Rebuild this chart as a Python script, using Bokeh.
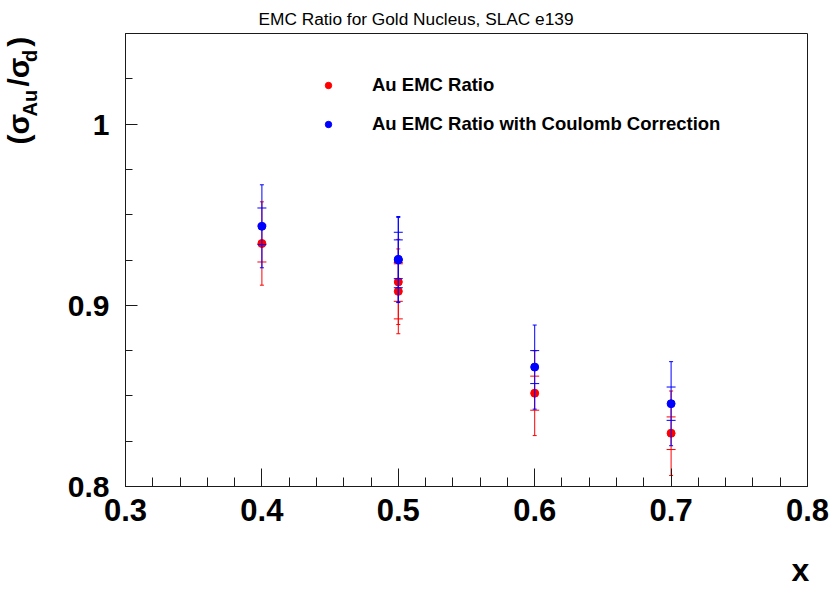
import numpy as np
import pandas as pd
from bokeh.plotting import figure
from bokeh.models import ColumnDataSource, FixedTicker, Legend, Title
from bokeh.embed import file_html
from bokeh.resources import INLINE

# SLAC E139 gold / deuterium cross-section ratio
x_au = [0.4, 0.5, 0.5, 0.6, 0.7]
ratio_au = [0.9341, 0.9129, 0.9077, 0.8515, 0.8294]
stat_au = [0.0102, 0.0107, 0.0152, 0.0094, 0.0090]
total_au = [0.0230, 0.0235, 0.0234, 0.0234, 0.0233]

# Same ratio after the Coulomb correction
x_cc = [0.4, 0.5, 0.5, 0.6, 0.7]
ratio_cc = [0.9436, 0.9254, 0.9250, 0.8659, 0.8457]
stat_cc = [0.0101, 0.0107, 0.0153, 0.0091, 0.0092]
total_cc = [0.0229, 0.0236, 0.0235, 0.0232, 0.0232]

x_ticks = [0.3, 0.4, 0.5, 0.6, 0.7, 0.8]
y_ticks = [0.8, 0.9, 1.0]
y_tick_labels = ["0.8", "0.9", "1"]

X_RANGE = (0.3, 0.8)
Y_RANGE = (0.8, 1.05)
W, H = 830, 590
FRAME = dict(left=125, right=807, top=33, bottom=486)
FONT = "Liberation Sans"
INK = "#1a1a1a"
NBSP = "\u00a0"
SIXTH_EM = "\u2006"
HAIR = "\u200a"


def make_source(x, r, stat, tot):
    df = pd.DataFrame(dict(x=x, r=r, stat=stat, tot=tot))
    df["stat_lo"] = df.r - df.stat
    df["stat_hi"] = df.r + df.stat
    df["tot_lo"] = df.r - df.tot
    df["tot_hi"] = df.r + df.tot
    return ColumnDataSource(df)


p = figure(width=W, height=H, x_range=X_RANGE, y_range=Y_RANGE,
           output_backend="svg", toolbar_location=None, title=None,
           min_border_left=FRAME["left"], min_border_right=W - FRAME["right"],
           min_border_top=FRAME["top"], min_border_bottom=H - FRAME["bottom"])
p.background_fill_color = "white"
p.border_fill_color = "white"
p.outline_line_color = INK
p.outline_line_width = 1
p.grid.visible = False


def draw_series(src, color):
    p.segment(x0="x", y0="tot_lo", x1="x", y1="tot_hi", source=src,
              line_color=color, line_width=1)
    for col in ("tot_lo", "tot_hi"):
        p.scatter(x="x", y=col, source=src, marker="dash", size=4,
                  line_color=color, line_width=1)
    for col in ("stat_lo", "stat_hi"):
        p.scatter(x="x", y=col, source=src, marker="dash", size=9,
                  line_color=color, line_width=1)
    return p.scatter(x="x", y="r", source=src, marker="circle", size=8,
                     fill_color=color, line_color=color)


r_au = draw_series(make_source(x_au, ratio_au, stat_au, total_au), "#ff0000")
r_cc = draw_series(make_source(x_cc, ratio_cc, stat_cc, total_cc), "#0000ff")

# axes: ROOT style ticks pointing into the frame
for ax in (p.xaxis[0], p.yaxis[0]):
    ax.axis_line_color = INK
    ax.major_tick_line_color = INK
    ax.minor_tick_line_color = INK
    ax.major_tick_out = 0
    ax.minor_tick_out = 0
    ax.major_label_text_font = FONT
    ax.major_label_text_font_style = "bold"
    ax.major_label_text_color = "black"

xa = p.xaxis[0]
xa.ticker = FixedTicker(ticks=x_ticks,
                        minor_ticks=list(np.round(np.arange(0.3, 0.8001, 0.02), 3)))
xa.major_tick_in = 18
xa.minor_tick_in = 9
xa.major_label_text_font_size = "31px"
xa.major_label_standoff = 12
# axis title "x" at the right end of the axis
xa.axis_label = "x" + NBSP + SIXTH_EM
xa.axis_label_align = "end"
xa.axis_label_text_font = FONT
xa.axis_label_text_font_style = "bold"
xa.axis_label_text_font_size = "32px"
xa.axis_label_text_color = "black"
xa.axis_label_standoff = 28

ya = p.yaxis[0]
ya.ticker = FixedTicker(ticks=y_ticks,
                        minor_ticks=list(np.round(np.arange(0.8, 1.0501, 0.025), 3)))
ya.major_tick_in = 12
ya.minor_tick_in = 7
# a little fixed space in front of each label widens the axis strip so the
# y title can sit tight against the numbers
ya.major_label_overrides = {t: NBSP * 3 + SIXTH_EM + lab
                            for t, lab in zip(y_ticks, y_tick_labels)}
ya.major_label_text_font_size = "30px"
ya.major_label_standoff = 16

legend = Legend(items=[("Au EMC Ratio", [r_au]),
                       ("Au EMC Ratio with Coulomb Correction", [r_cc])],
                location=(195, 351), border_line_color=None,
                background_fill_alpha=0, padding=0, margin=0,
                glyph_width=16, glyph_height=20, label_height=20,
                label_standoff=36, spacing=17,
                label_text_font=FONT, label_text_font_style="bold",
                label_text_font_size="18.5px", label_text_color="black")
p.add_layout(legend)

# plot title, centred over the whole canvas
p.add_layout(Title(text="EMC Ratio for Gold Nucleus, SLAC e139", align="left",
                   offset=133, standoff=10, text_font=FONT,
                   text_font_style="normal", text_font_size="17.3px",
                   text_color="black"), "above")

# y axis title (sigma_Au / sigma_d): subscripts in the strip next to the axis,
# main characters in the outer strip, the gaps held open with fixed-width spaces
sub_text = "Au" + NBSP * 5 + "d"
main_text = "(\u03c3" + NBSP * 3 + HAIR + "/\u03c3" + NBSP + HAIR + ")"
p.add_layout(Title(text=sub_text, align="left", offset=370, standoff=-13,
                   text_font=FONT, text_font_style="bold",
                   text_font_size="20px", text_color="black"), "left")
p.add_layout(Title(text=main_text, align="left", offset=342, standoff=-22,
                   text_font=FONT, text_font_style="bold",
                   text_font_size="30px", text_color="black"), "left")

open("out.html", "w").write(file_html(p, INLINE))
